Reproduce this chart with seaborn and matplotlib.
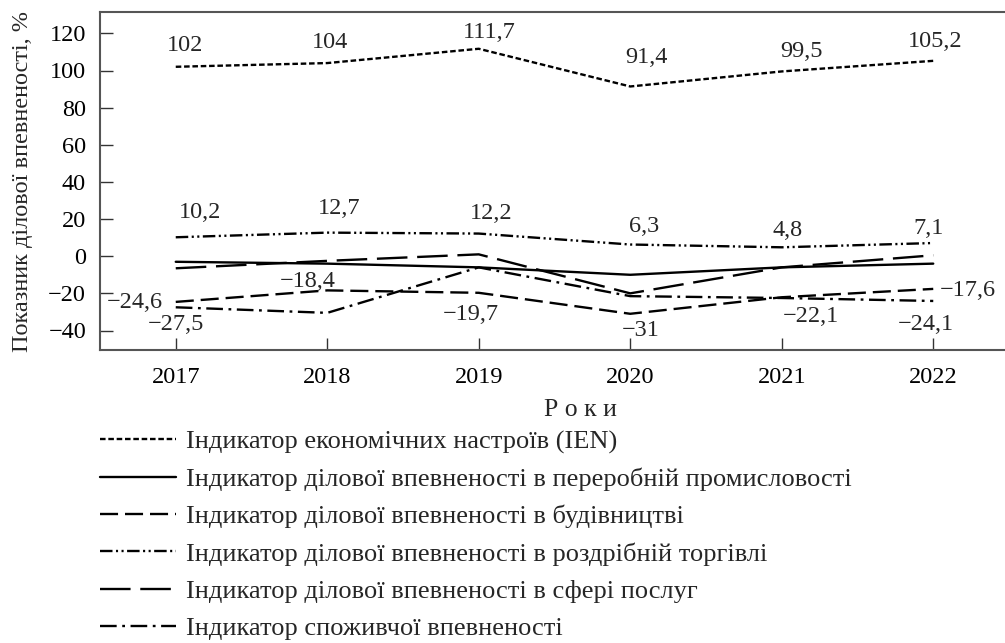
import matplotlib
matplotlib.use("Agg")
import matplotlib.pyplot as plt
import pandas as pd
import seaborn as sns

years = [2017, 2018, 2019, 2020, 2021, 2022]
ien = [102, 104, 111.7, 91.4, 99.5, 105.2]
manufacturing = [-3, -4, -6, -10, -6, -4]
construction = [-24.6, -18.4, -19.7, -31, -22.1, -17.6]
retail = [10.2, 12.7, 12.2, 6.3, 4.8, 7.1]
services = [-6.5, -2.5, 1, -20, -6, 0.5]
consumer = [-27.5, -30.5, -6, -21.5, -22.5, -24.1]

names = [
    "Індикатор економічних настроїв (IEN)",
    "Індикатор ділової впевненості в переробній промисловості",
    "Індикатор ділової впевненості в будівництві",
    "Індикатор ділової впевненості в роздрібній торгівлі",
    "Індикатор ділової впевненості в сфері послуг",
    "Індикатор споживчої впевненості",
]
values = [ien, manufacturing, construction, retail, services, consumer]

# label offsets in pixels (dx, dy), None = no label
label_offsets = {
    names[0]: [(9, 21), (3, 21), (11, 16), (16, 29), (20, 20), (2, 19)],
    names[2]: [(-41, -1), (-20, 9), (-8, -22), (10, -17), (29, -19), (35, -2)],
    names[3]: [(24, 25), (12, 24), (12, 20), (14, 18), (6, 17), (-5, 15)],
    names[5]: [(0, -17), None, None, None, None, (-7, -24)],
}

dash_map = {
    names[0]: (4, 2),
    names[1]: "",
    names[2]: (13, 5),
    names[3]: (9, 2.5, 1.5, 2.5, 1.5, 2.5),
    names[4]: (22, 7),
    names[5]: (12, 4, 2, 4),
}

df = pd.DataFrame(
    [(y, v, n) for n, vals in zip(names, values) for y, v in zip(years, vals)],
    columns=["year", "value", "series"],
)

sns.set_style("ticks")
plt.rcParams.update({
    "font.family": ["Liberation Serif", "DejaVu Serif"],
    "lines.scale_dashes": False,
    "axes.unicode_minus": True,
})

fig = plt.figure(figsize=(10.05, 6.43), dpi=100)
ax = fig.add_axes([100 / 1005, 1 - 350 / 643, 909 / 1005, 338 / 643])

sns.lineplot(
    data=df, x="year", y="value", style="series", style_order=names,
    dashes=dash_map, color="black", lw=1.7, ax=ax, legend="full",
)

for name, offs in label_offsets.items():
    vals = values[names.index(name)]
    for yr, v, off in zip(years, vals, offs):
        if off is None:
            continue
        txt = f"{v:g}".replace(".", ",").replace("-", "\u2212")
        ax.annotate(
            txt, (yr, v), xytext=(off[0] * 0.72, off[1] * 0.72),
            textcoords="offset points", ha="center", va="center", fontsize=17.5,
        )

ax.set_xlim(2016.5, 2022.5)
ax.set_ylim(-50.5, 131.5)
ax.set_xticks(years)
ax.set_yticks(range(-40, 121, 20))
ax.tick_params(direction="in", length=9, width=1, colors="#333333",
               labelcolor="black", labelsize=17.5)
ax.tick_params(axis="x", pad=12)
ax.tick_params(axis="y", pad=10)
for s in ["left", "top", "bottom"]:
    ax.spines[s].set_visible(True)
    ax.spines[s].set_color("#555555")
    ax.spines[s].set_linewidth(1.5)
ax.spines["right"].set_visible(False)

ax.set_ylabel("Показник ділової впевненості, %", fontsize=17.5)
ax.yaxis.set_label_coords(-0.074, 0.5)
ax.set_xlabel("Р\u2005о\u2005к\u2005и", fontsize=18.5)
ax.xaxis.set_label_coords(0.529, -0.145)

sns.move_legend(
    ax, "upper left", bbox_to_anchor=(100 / 1005, 1 - 430 / 643),
    bbox_transform=fig.transFigure, title=None, frameon=False,
    fontsize=19, handlelength=2.88, handletextpad=0.38, labelspacing=0.52,
    borderpad=0, borderaxespad=0,
)

fig.savefig("out.png", dpi=100)
